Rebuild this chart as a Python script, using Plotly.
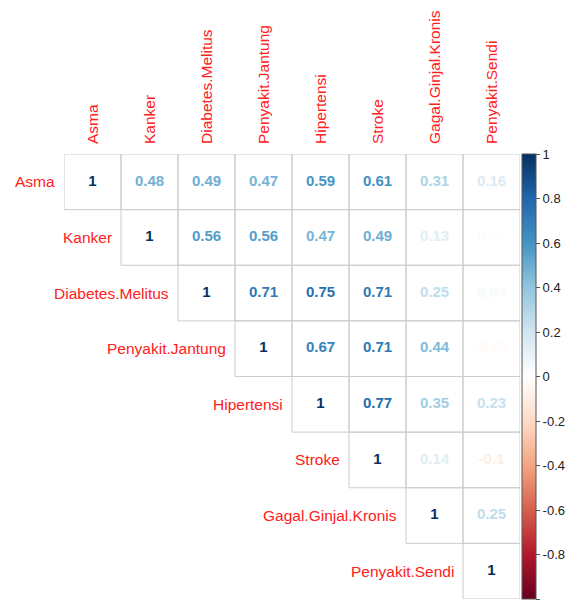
import plotly.graph_objects as go
import numpy as np

labels = ["Asma", "Kanker", "Diabetes.Melitus", "Penyakit.Jantung",
          "Hipertensi", "Stroke", "Gagal.Ginjal.Kronis", "Penyakit.Sendi"]

# upper-triangle correlations, row by row (starting at the diagonal)
row_asma = [1, 0.48, 0.49, 0.47, 0.59, 0.61, 0.31, 0.16]
row_kanker = [1, 0.56, 0.56, 0.47, 0.49, 0.13, 0.02]
row_dm = [1, 0.71, 0.75, 0.71, 0.25, 0.04]
row_pj = [1, 0.67, 0.71, 0.44, -0.03]
row_hip = [1, 0.77, 0.35, 0.23]
row_stroke = [1, 0.14, -0.1]
row_ggk = [1, 0.25]
row_ps = [1]
rows = [row_asma, row_kanker, row_dm, row_pj, row_hip, row_stroke, row_ggk, row_ps]

cbar_vals = [1, 0.8, 0.6, 0.4, 0.2, 0, -0.2, -0.4, -0.6, -0.8, -1]
cbar_text = ["1", "0.8", "0.6", "0.4", "0.2", "0", "-0.2", "-0.4", "-0.6", "-0.8", "-1"]

anchor_cols = ["#67001F", "#B2182B", "#D6604D", "#F4A582", "#FDDBC7", "#FFFFFF",
               "#D1E5F0", "#92C5DE", "#4393C3", "#2166AC", "#053061"]
n = len(anchor_cols)
colorscale = [[i / (n - 1), c] for i, c in enumerate(anchor_cols)]

def hex2rgb(h):
    h = h.lstrip("#")
    return np.array([int(h[i:i + 2], 16) for i in (0, 2, 4)], dtype=float)

anchor_rgb = [hex2rgb(c) for c in anchor_cols]

def val2col(v):
    t = (v + 1) / 2 * (n - 1)
    i = int(min(max(np.floor(t), 0), n - 2))
    f = t - i
    c = anchor_rgb[i] * (1 - f) + anchor_rgb[i + 1] * f
    return "rgb(%d,%d,%d)" % tuple(np.round(c).astype(int))

xs, ys, vs, txt, cols = [], [], [], [], []
for r, vals in enumerate(rows):
    for k, v in enumerate(vals):
        c = r + k
        xs.append(labels[c])
        ys.append(labels[r])
        vs.append(v)
        txt.append(f"{v:g}")
        cols.append(val2col(v))

fig = go.Figure()
fig.add_trace(go.Scatter(
    x=xs, y=ys, mode="text", text=txt,
    textfont=dict(family="Liberation Sans, Arial", size=15, color=cols, weight="bold"),
    hoverinfo="skip", showlegend=False,
))
# colorbar via invisible markers
fig.add_trace(go.Scatter(
    x=[labels[0]], y=[labels[0]], mode="markers",
    marker=dict(size=0.1, opacity=0, color=[0], colorscale=colorscale, cmin=-1, cmax=1,
                showscale=True,
                colorbar=dict(
                    thickness=14, len=1, lenmode="fraction", y=0, yanchor="bottom",
                    x=1.004, xanchor="left", xpad=0, ypad=0,
                    outlinecolor="#555555", outlinewidth=1,
                    tickvals=cbar_vals, ticktext=cbar_text,
                    ticks="outside", ticklen=4, tickcolor="#555555",
                    tickfont=dict(family="Liberation Sans, Arial", size=13, color="#222222"),
                )),
    hoverinfo="skip", showlegend=False,
))

shapes = []
for r, vals in enumerate(rows):
    for k in range(len(vals)):
        c = r + k
        shapes.append(dict(type="rect", xref="x", yref="y",
                           x0=c - 0.5, x1=c + 0.5, y0=r - 0.5, y1=r + 0.5,
                           line=dict(color="#cccccc", width=1), layer="below"))

annotations = []
for r, lab in enumerate(labels):
    annotations.append(dict(x=r - 0.5, y=r, xref="x", yref="y", text=lab,
                            showarrow=False, xanchor="right", yanchor="middle",
                            xshift=-7,
                            font=dict(family="Liberation Sans, Arial", size=15.5, color="#ff2020")))

fig.update_layout(
    width=574, height=603,
    margin=dict(l=64, r=54, t=154, b=4),
    paper_bgcolor="white", plot_bgcolor="white",
    shapes=shapes, annotations=annotations,
    xaxis=dict(type="category", categoryorder="array", categoryarray=labels,
               range=[-0.5, 7.5], side="top", tickangle=-90, showgrid=False,
               zeroline=False, showline=False, ticks="", ticklabelstandoff=9,
               tickfont=dict(family="Liberation Sans, Arial", size=15.5, color="#ff2020")),
    yaxis=dict(type="category", categoryorder="array", categoryarray=labels,
               range=[7.5, -0.5], showticklabels=False, showgrid=False,
               zeroline=False, showline=False, ticks=""),
)

fig.write_html("out.html")
